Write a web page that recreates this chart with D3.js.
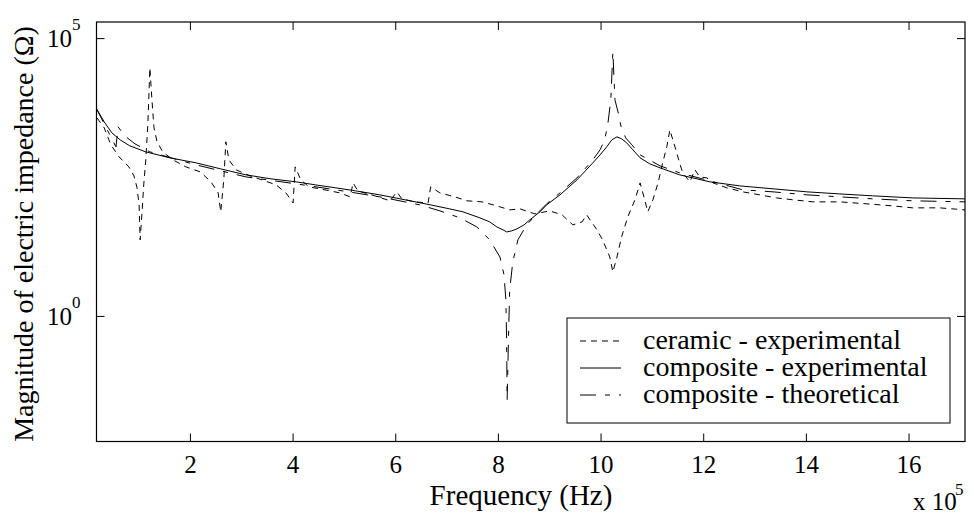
<!DOCTYPE html>
<html>
<head>
<meta charset="utf-8">
<script src="https://cdn.jsdelivr.net/npm/d3@7"></script>
<style>
body { margin: 0; background: #fff; }
text { font-family: "Liberation Serif", "Times New Roman", serif; fill: #000; }
</style>
</head>
<body>
<div id="chart"></div>
<script>
// frequency is in units of 1e5 Hz, magnitude in ohms
var ceramicFreq = [0.19, 0.33, 0.46, 0.62, 0.81, 0.91, 0.97, 1.01, 1.03, 1.07, 1.1, 1.14, 1.18, 1.22, 1.26, 1.3, 1.36, 1.47, 1.67, 1.92,
  2.2, 2.41, 2.55, 2.6, 2.66, 2.7, 2.76, 2.9, 3.17, 3.46, 3.68, 3.87, 4.01, 4.05, 4.16, 4.32, 4.63, 4.92, 5.12, 5.18,
  5.27, 5.6, 5.9, 6.03, 6.13, 6.38, 6.64, 6.69, 6.87, 7.16, 7.4, 7.69, 7.98, 8.23, 8.43, 8.72, 9.01, 9.25, 9.46, 9.64,
  9.73, 9.93, 10.04, 10.18, 10.24, 10.32, 10.41, 10.53, 10.67, 10.77, 10.86, 10.92, 11.02, 11.12, 11.21, 11.29, 11.35, 11.45, 11.54, 11.6,
  11.74, 11.84, 11.93, 12.07, 12.19, 12.46, 12.77, 13.1, 13.43, 13.75, 14.14, 14.66, 15.19, 15.69, 16.08, 16.61, 17.1];
var ceramicMag = [3670, 2430, 1200, 729, 482, 332, 202, 99.7, 23.4, 81, 228, 644, 2750, 29200, 7740, 2430, 1360, 897, 644, 482,
  392, 259, 164, 74.6, 281, 1360, 644, 426, 332, 270, 228, 164, 108, 482, 281, 210, 186, 164, 139, 248,
  178, 145, 118, 171, 128, 113, 108, 210, 164, 139, 118, 113, 95.6, 81, 84.5, 68.7, 77.8, 65.9, 43.5, 49.3,
  65.9, 35.4, 23.4, 11.5, 6.2, 11.5, 26.5, 60.6, 123, 248, 123, 74.6, 123, 248, 569, 1100, 2230, 1100, 569, 376,
  259, 426, 318, 305, 248, 202, 171, 151, 133, 123, 113, 113, 104, 95.6, 88.1, 88.1, 81];

var compExpFreq = [0.17, 0.33, 0.48, 0.64, 0.83, 1.14, 1.61, 2.12, 2.6, 3.09, 3.58, 4.07, 4.45, 4.84, 5.23, 5.7, 6.19, 6.68, 7.06, 7.32,
  7.65, 7.84, 7.98, 8.1, 8.17, 8.27, 8.37, 8.51, 8.62, 8.82, 8.95, 9.21, 9.54, 9.85, 9.99, 10.12, 10.22, 10.32, 10.41, 10.51,
  10.63, 10.77, 10.96, 11.16, 11.54, 12.13, 12.71, 13.36, 14.02, 14.66, 15.3, 16.08, 17.1];
var compExpMag = [5560, 3110, 1970, 1475, 1150, 897, 700, 569, 443, 346, 293, 259, 228, 202, 178, 151, 123, 100, 84.5, 74.6,
  58.2, 49.3, 40, 35.4, 32.5, 33.9, 36.9, 43.5, 53.5, 74.6, 100, 151, 281, 569, 792, 1104, 1475, 1671, 1538, 1303,
  975, 700, 545, 462, 346, 259, 219, 194, 171, 157, 145, 133, 128];

var compTheoFreq = [0.17, 0.34, 0.56, 0.6, 0.73, 0.93, 1.22, 2.12, 3.09, 4.07, 4.84, 5.7, 6.48, 6.87, 7.26, 7.59, 7.84, 8.04, 8.12, 8.155,
  8.17, 8.18, 8.21, 8.23, 8.29, 8.39, 8.56, 8.76, 8.95, 9.21, 9.54, 9.85, 9.99, 10.08, 10.14, 10.2, 10.24, 10.28, 10.34, 10.4,
  10.49, 10.61, 10.77, 11.16, 11.54, 12.13, 12.77, 13.36, 14.02, 14.66, 15.3, 16.08, 17.1];
var compTheoMag = [5560, 2750, 1100, 2530, 1740, 1250, 897, 523, 318, 238, 186, 139, 99.7, 77.8, 58.2, 40, 23.4, 11.5, 5.47, 1.94,
  0.37, 0.0307, 0.56, 2.94, 9.38, 23.4, 43.5, 68.7, 104, 164, 305, 644, 975, 1475, 2750, 7740, 56650, 7740, 4710, 2530,
  1600, 1200, 792, 502, 376, 270, 186, 171, 151, 139, 128, 118, 113];

var seriesNames = ["ceramic - experimental", "composite - experimental", "composite - theoretical"];
var xTicks = [2, 4, 6, 8, 10, 12, 14, 16];
var yTicks = [1, 100000];
var yTickExp = ["0", "5"];

var width = 974, height = 514;
var plotLeft = 96.5, plotRight = 965, plotTop = 22, plotBottom = 441.5;

var svg = d3.select("#chart").append("svg")
  .attr("width", width)
  .attr("height", height)
  .style("background", "#fff");

var x = d3.scaleLinear().domain([0.18, 17.1]).range([plotLeft, plotRight]);
var y = d3.scaleLog().domain([Math.pow(10, -2.26), Math.pow(10, 5.29)]).range([plotBottom, plotTop]);

svg.append("clipPath").attr("id", "plotclip")
  .append("rect")
  .attr("x", plotLeft).attr("y", plotTop)
  .attr("width", plotRight - plotLeft).attr("height", plotBottom - plotTop);

var series = [
  { name: seriesNames[0], freq: ceramicFreq, mag: ceramicMag, dash: "6,5" },
  { name: seriesNames[1], freq: compExpFreq, mag: compExpMag, dash: null },
  { name: seriesNames[2], freq: compTheoFreq, mag: compTheoMag, dash: "16,9,5,9" }
];

var line = d3.line()
  .x(function(d) { return x(d[0]); })
  .y(function(d) { return y(d[1]); });

var plot = svg.append("g").attr("clip-path", "url(#plotclip)");

series.forEach(function(s) {
  var pts = s.freq.map(function(f, i) { return [f, s.mag[i]]; });
  plot.append("path")
    .datum(pts)
    .attr("d", line)
    .attr("fill", "none")
    .attr("stroke", "#000")
    .attr("stroke-width", 1)
    .attr("stroke-dasharray", s.dash);
});

// axes, ticks pointing inwards on all four sides
var xb = svg.append("g").attr("transform", "translate(0," + plotBottom + ")")
  .call(d3.axisBottom(x).tickValues(xTicks).tickSize(-8).tickPadding(14).tickFormat(d3.format("d")));
var xt = svg.append("g").attr("transform", "translate(0," + plotTop + ")")
  .call(d3.axisTop(x).tickValues(xTicks).tickSize(-8).tickFormat(""));
var yl = svg.append("g").attr("transform", "translate(" + plotLeft + ",0)")
  .call(d3.axisLeft(y).tickValues(yTicks).tickSize(-8).tickFormat(""));
var yr = svg.append("g").attr("transform", "translate(" + plotRight + ",0)")
  .call(d3.axisRight(y).tickValues(yTicks).tickSize(-8).tickFormat(""));

[xb, xt, yl, yr].forEach(function(g) {
  g.select(".domain").remove();
  g.selectAll("line").attr("stroke", "#000");
});
xb.selectAll("text").attr("font-size", 25).attr("fill", "#000")
  .style("font-family", '"Liberation Serif", "Times New Roman", serif');

svg.append("rect")
  .attr("x", plotLeft).attr("y", plotTop)
  .attr("width", plotRight - plotLeft).attr("height", plotBottom - plotTop)
  .attr("fill", "none").attr("stroke", "#000").attr("stroke-width", 1.2);

// y tick labels 10^n
yTicks.forEach(function(v, i) {
  var ty = y(v) + 9;
  svg.append("text").attr("x", 72).attr("y", ty)
    .attr("text-anchor", "end").attr("font-size", 25).text("10");
  svg.append("text").attr("x", 72).attr("y", ty - 17)
    .attr("font-size", 17).text(yTickExp[i]);
});

// x multiplier
svg.append("text").attr("x", 913).attr("y", 510).attr("font-size", 25).text("x 10");
svg.append("text").attr("x", 955).attr("y", 495).attr("font-size", 17).text("5");

// axis titles
svg.append("text").attr("x", 521).attr("y", 505)
  .attr("text-anchor", "middle").attr("font-size", 29).text("Frequency (Hz)");
svg.append("text")
  .attr("transform", "translate(33," + 234 + ") rotate(-90)")
  .attr("text-anchor", "middle").attr("font-size", 28)
  .text("Magnitude of electric impedance (\u03A9)");

// legend
var lg = svg.append("g");
lg.append("rect").attr("x", 567).attr("y", 318).attr("width", 383).attr("height", 105)
  .attr("fill", "#fff").attr("stroke", "#000").attr("stroke-width", 1);
series.forEach(function(s, i) {
  var by = 349 + i * 27;
  lg.append("line").attr("x1", 580).attr("x2", 621).attr("y1", by - 8).attr("y2", by - 8)
    .attr("stroke", "#000").attr("stroke-width", 1).attr("stroke-dasharray", s.dash);
  lg.append("text").attr("x", 643).attr("y", by).attr("font-size", 28).text(s.name);
});
</script>
</body>
</html>
